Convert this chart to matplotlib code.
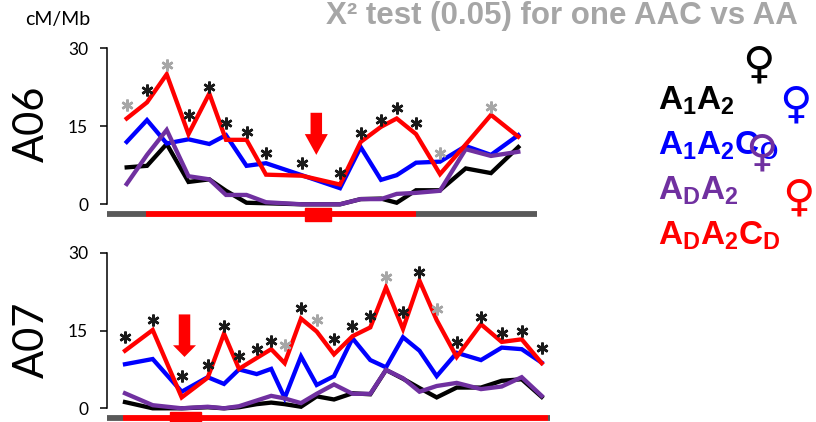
import matplotlib
matplotlib.use('Agg')
import matplotlib.pyplot as plt
import numpy as np
from matplotlib.patches import FancyArrow, Rectangle

# ---------------- data ----------------
series_names = ['A1A2', 'A1A2Co', 'ADA2', 'ADA2CD']

a06_pos = [1.94, 3.97, 5.94, 8.12, 10.2, 11.87, 13.92, 15.87, 19.44, 23.27,
           25.34, 27.37, 28.94, 30.87, 33.27, 35.84, 38.37, 41.1]
a06_A1A2 = [7.1, 7.4, 11.6, 4.3, 4.8, 2.6, 0.3, 0.2, 0.0, 0.0,
            1.0, 1.1, 0.3, 2.7, 2.7, 6.9, 6.0, 11.0]
a06_A1A2Co = [12.0, 16.2, 11.7, 12.5, 11.6, 13.3, 7.4, 7.9, 5.6, 3.1,
              11.0, 4.7, 5.6, 8.0, 8.2, 11.2, 9.5, 13.3]
a06_ADA2 = [3.9, 9.5, 14.3, 5.4, 4.8, 1.8, 1.8, 0.4, 0.0, 0.0,
            1.0, 1.0, 2.0, 2.2, 2.6, 10.6, 9.3, 10.1]
a06_ADA2CD = [16.5, 19.6, 25.0, 13.5, 21.3, 12.4, 12.4, 5.7, 5.5, 3.8,
              12.0, 14.9, 16.5, 13.5, 5.8, 11.5, 17.2, 13.0]
a06_star = [19.1, 22.0, 26.8, 17.2, 22.6, 15.7, 14.0, 9.8, 7.9, 6.0,
            13.8, 16.3, 18.5, 15.6, 9.9, np.nan, 18.7, np.nan]
a06_star_weak = [1, 0, 1, 0, 0, 0, 0, 0, 0, 0, 0, 0, 0, 0, 1, 0, 1, 0]
a06_track = [(0.0, 3.87, 'g'), (3.87, 30.87, 'r'), (30.87, 42.97, 'g')]
a06_cent = (19.77, 22.34)
a06_arrow = (20.9, 17.6, 9.5)

a07_pos = [1.77, 4.54, 7.44, 10.04, 11.67, 13.17, 14.94, 16.39, 17.74, 19.37,
           20.94, 22.67, 24.52, 26.3, 27.87, 29.57, 31.22, 32.94, 34.94, 37.37,
           39.44, 41.44, 43.44]
a07_A1A2 = [1.2, 0.0, 0.0, 0.2, 0.0, 0.2, 0.8, 1.1, 0.8, 0.3,
            2.3, 1.7, 2.9, 2.7, 7.4, 5.7, 3.9, 2.1, 4.0, 4.0,
            5.3, 5.6, 2.2]
a07_A1A2Co = [8.5, 9.5, 3.2, 6.0, 4.7, 7.5, 6.6, 7.6, 2.0, 10.0,
              4.5, 6.2, 13.5, 9.3, 7.9, 13.7, 11.1, 6.2, 10.7, 9.3,
              11.7, 11.4, 8.8]
a07_ADA2 = [2.9, 0.6, 0.0, 0.3, 0.0, 0.4, 1.5, 2.4, 1.9, 1.0,
            2.8, 4.6, 2.8, 2.8, 7.4, 5.8, 3.2, 4.3, 4.9, 3.7,
            4.2, 6.0, 2.4]
a07_ADA2CD = [11.1, 15.1, 2.1, 5.9, 14.4, 7.6, 9.7, 11.4, 8.7, 17.3,
              14.8, 10.4, 13.9, 15.6, 23.3, 15.3, 24.6, 17.0, 9.9, 16.2,
              12.8, 13.3, 8.7]
a07_star = [13.7, 17.0, 6.2, 8.3, 15.9, 10.1, 11.4, 13.0, 12.2, 19.4,
            17.0, 13.4, 15.9, 17.8, 25.4, 18.6, 26.3, 19.1, 12.8, 17.6,
            14.5, 15.0, 11.6]
a07_star_weak = [0, 0, 0, 0, 0, 0, 0, 0, 1, 0, 1, 0, 0, 0, 1, 0, 0, 1,
                 0, 0, 0, 0, 0]
a07_track = [(0.0, 1.54, 'g'), (1.54, 44.1, 'r'), (44.1, 44.27, 'g')]
a07_cent = (6.27, 9.37)
a07_arrow = (7.72, 18.1, 9.9)

yticks = [0, 15, 30]
title = 'X\u00b2 test (0.05) for one AAC vs AA'

# ---------------- style ----------------
C_BLACK = '#000000'
C_BLUE = '#0000ff'
C_PURPLE = '#7030a0'
C_RED = '#ff0000'
C_GREY = '#595959'
C_STARG = '#a6a6a6'

plt.rcParams['mathtext.fontset'] = 'custom'
plt.rcParams['mathtext.bf'] = 'Liberation Sans:bold'
plt.rcParams['mathtext.rm'] = 'Liberation Sans'

fig = plt.figure(figsize=(8.16, 4.22), dpi=100)
W, H = 816.0, 422.0


def panel(rect, pos, series, star, weak, track, cent, arrow, head_len, xmax):
    ax = fig.add_axes(rect)
    cols = [C_BLACK, C_BLUE, C_PURPLE, C_RED]
    for s, c in zip(series, cols):
        ax.plot(pos, s, color=c, lw=3.1, solid_joinstyle='miter',
                clip_on=False, zorder=3)
    pos_a = np.array(pos)
    star_a = np.array(star)
    weak_a = np.array(weak, dtype=bool)
    ax.plot(pos_a[~weak_a], star_a[~weak_a], ls='none', marker=(6, 2, 0),
            ms=8.5, mew=1.8, color='#1a1a1a', clip_on=False, zorder=4)
    ax.plot(pos_a[weak_a], star_a[weak_a], ls='none', marker=(6, 2, 0),
            ms=8.5, mew=1.8, color=C_STARG, clip_on=False, zorder=4)
    # chromosome track
    for x0, x1, c in track:
        ax.plot([x0, x1], [-1.9, -1.9], color=C_RED if c == 'r' else C_GREY,
                lw=4.2, solid_capstyle='butt', clip_on=False, zorder=2)
    ax.add_patch(Rectangle((cent[0], -3.3), cent[1] - cent[0], 2.6,
                           color=C_RED, clip_on=False, zorder=2))
    # arrow
    ax_x, ytop, ytip = arrow
    ax.add_patch(FancyArrow(ax_x, ytop, 0, ytip - ytop, width=1.15,
                            head_width=2.3, head_length=head_len,
                            length_includes_head=True, color=C_RED,
                            lw=0, zorder=5))
    ax.set_xlim(0, xmax)
    ax.set_ylim(0, 30)
    ax.set_yticks(yticks)
    ax.set_yticklabels([str(t) for t in yticks], family='Lato', fontsize=12.5)
    ax.tick_params(axis='y', length=5.3, width=1.1, pad=8.5)
    ax.set_xticks([])
    for sp in ['top', 'right', 'bottom']:
        ax.spines[sp].set_visible(False)
    ax.spines['left'].set_linewidth(1.1)
    ax.patch.set_alpha(0)
    return ax


ax1 = panel([107.3 / W, 1 - 204.3 / H, 429.7 / W, 156 / H], a06_pos,
            [a06_A1A2, a06_A1A2Co, a06_ADA2, a06_ADA2CD],
            a06_star, a06_star_weak, a06_track, a06_cent, a06_arrow, 4.0, 42.97)
ax2 = panel([107.3 / W, 1 - 408.3 / H, 442.7 / W, 155.6 / H], a07_pos,
            [a07_A1A2, a07_A1A2Co, a07_ADA2, a07_ADA2CD],
            a07_star, a07_star_weak, a07_track, a07_cent, a07_arrow, 2.25, 44.27)

# chromosome labels
fig.text(32 / W, 1 - 124 / H, 'A06', rotation=90, ha='center', va='center',
         family='Lato', fontsize=30)
fig.text(32 / W, 1 - 340 / H, 'A07', rotation=90, ha='center', va='center',
         family='Lato', fontsize=30)
fig.text(25 / W, 1 - 19 / H, 'cM/Mb', ha='left', va='center',
         family='Lato', fontsize=14)

# title
fig.text(798 / W, 1 - 16 / H, title, ha='right', va='center',
         family='Liberation Sans', fontweight='bold', fontsize=22.5,
         color='#a6a6a6')

# legend labels
leg = [(r'$\mathbf{A_1A_2}$', C_BLACK, 110),
       (r'$\mathbf{A_1A_2C_O}$', C_BLUE, 155),
       (r'$\mathbf{A_DA_2}$', C_PURPLE, 200),
       (r'$\mathbf{A_DA_2C_D}$', C_RED, 245)]
for s, c, yb in leg:
    fig.text(658 / W, 1 - yb / H, s, ha='left', va='baseline', color=c,
             fontsize=24)

# female symbols
fem = [(758, 65, C_BLACK), (795, 105, C_BLUE), (761, 153, C_PURPLE),
       (798, 198, C_RED)]
for x, y, c in fem:
    fig.text(x / W, 1 - y / H, '\u2640', ha='center', va='center', color=c,
             family='DejaVu Sans', fontsize=32, fontweight='bold')

fig.savefig('out.png', dpi=100)
